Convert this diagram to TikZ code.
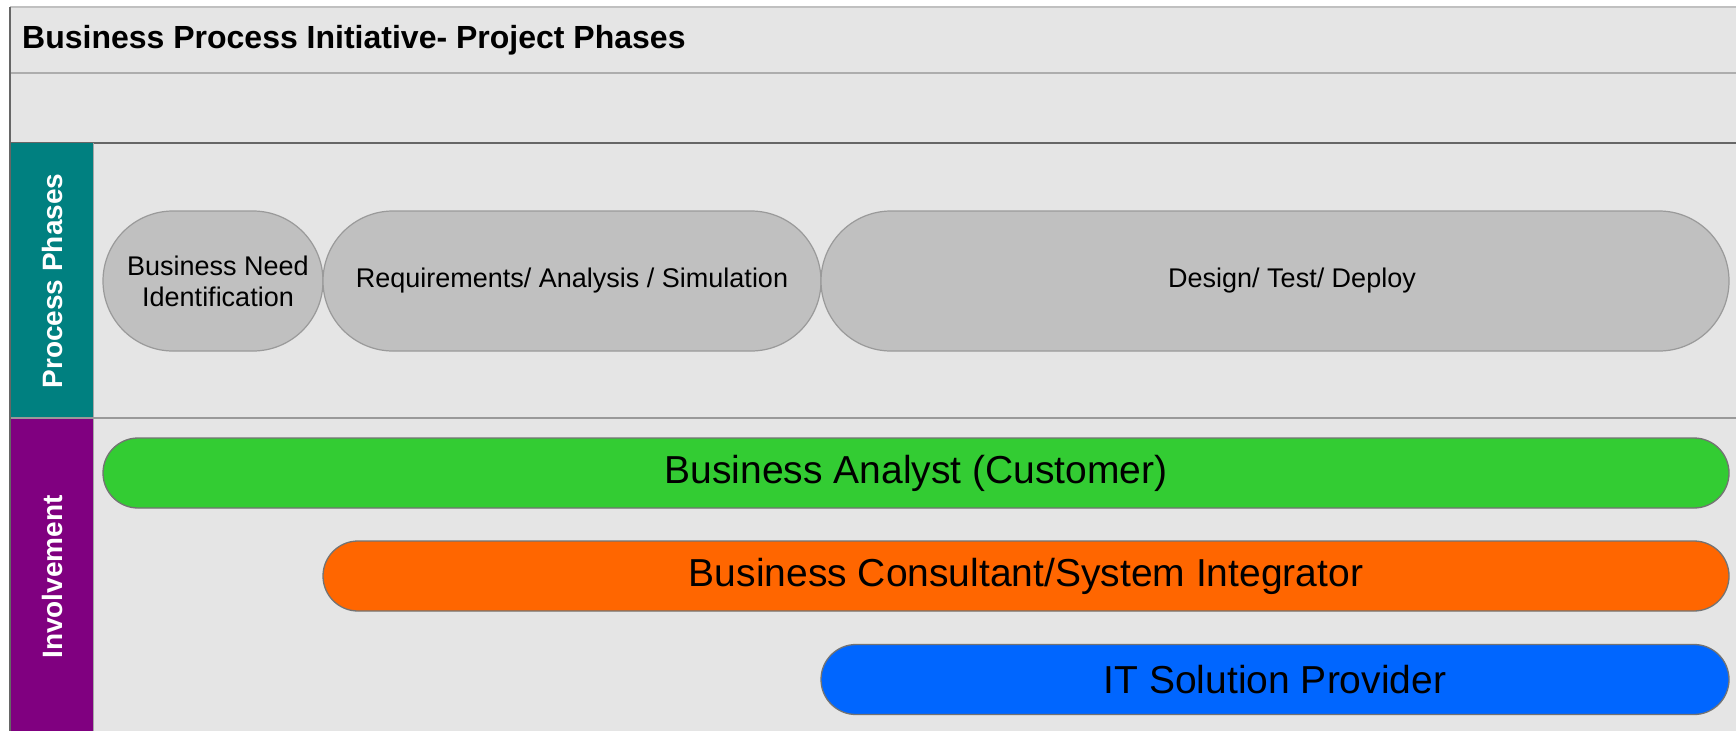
\documentclass[tikz,border=0pt]{standalone}
\usepackage{fontspec}
\setmainfont{Liberation Sans}
\definecolor{bggray}{HTML}{E5E5E5}
\definecolor{pillgray}{HTML}{C0C0C0}
\definecolor{pillline}{HTML}{9A9A9A}
\definecolor{teal}{HTML}{008080}
\definecolor{purp}{HTML}{800080}
\definecolor{bagreen}{HTML}{33CC33}
\definecolor{bcorange}{HTML}{FF6600}
\definecolor{itblue}{HTML}{0066FF}
\begin{document}
\begin{tikzpicture}[x=1pt,y=-1pt,
  pill/.style={draw=pillline,line width=1.2pt,fill=pillgray,rectangle,rounded corners=70pt,
    minimum height=140pt,inner sep=0pt,align=center,font=\fontsize{27}{31}\selectfont},
  bar/.style={draw=gray!90!black,line width=1.3pt,rectangle,rounded corners=35pt,
    minimum height=70pt,inner sep=0pt,font=\fontsize{39}{44}\selectfont},
  sidelabel/.style={rotate=90,text=white,font=\bfseries\fontsize{28}{32}\selectfont,inner sep=0pt}]
\useasboundingbox (0,0) rectangle (1736,731);
\fill[white] (0,0) rectangle (1736,731);
\fill[bggray] (10,7) rectangle (1736,731);
% bands
\draw[pillgray,line width=2pt] (10,7) -- (1736,7);
\draw[pillgray!90!black,line width=2pt] (10,73) -- (1736,73);
\draw[black!60,line width=2.5pt] (10,143) -- (1736,143);
% side columns
\fill[teal] (10,143) rectangle (93,418);
\fill[purp] (10,418) rectangle (93,731);
\draw[gray!70,line width=1pt] (93,143) -- (93,731);
\draw[gray!80,line width=2pt] (10,418) -- (1736,418);
\draw[black!60,line width=1.5pt] (10,7) -- (10,731);
% title
\node[anchor=west,font=\bfseries\fontsize{32}{36}\selectfont,inner sep=0pt] (title) at (22,40) {Business Process Initiative- Project Phases};
% side labels
\node[sidelabel] (pp) at (52,281) {Process Phases};
\node[sidelabel] (inv) at (52,577) {Involvement};
% phases
\node[pill,minimum width=220pt] (need) at (213,281) {\hspace*{10pt}Business Need\\\hspace*{10pt}Identification};
\node[pill,minimum width=498pt] (req) at (572,281) {Requirements/ Analysis / Simulation};
\node[pill,minimum width=908pt] (design) at (1275,281) {\hspace*{34pt}Design/ Test/ Deploy};
% involvement bars
\node[bar,fill=bagreen,minimum width=1626pt] (ba) at (916,473) {Business Analyst (Customer)};
\node[bar,fill=bcorange,minimum width=1406pt] (bc) at (1026,576) {Business Consultant/System Integrator};
\node[bar,fill=itblue,minimum width=908pt] (it) at (1275,679.5) {IT Solution Provider};
\end{tikzpicture}
\end{document}
